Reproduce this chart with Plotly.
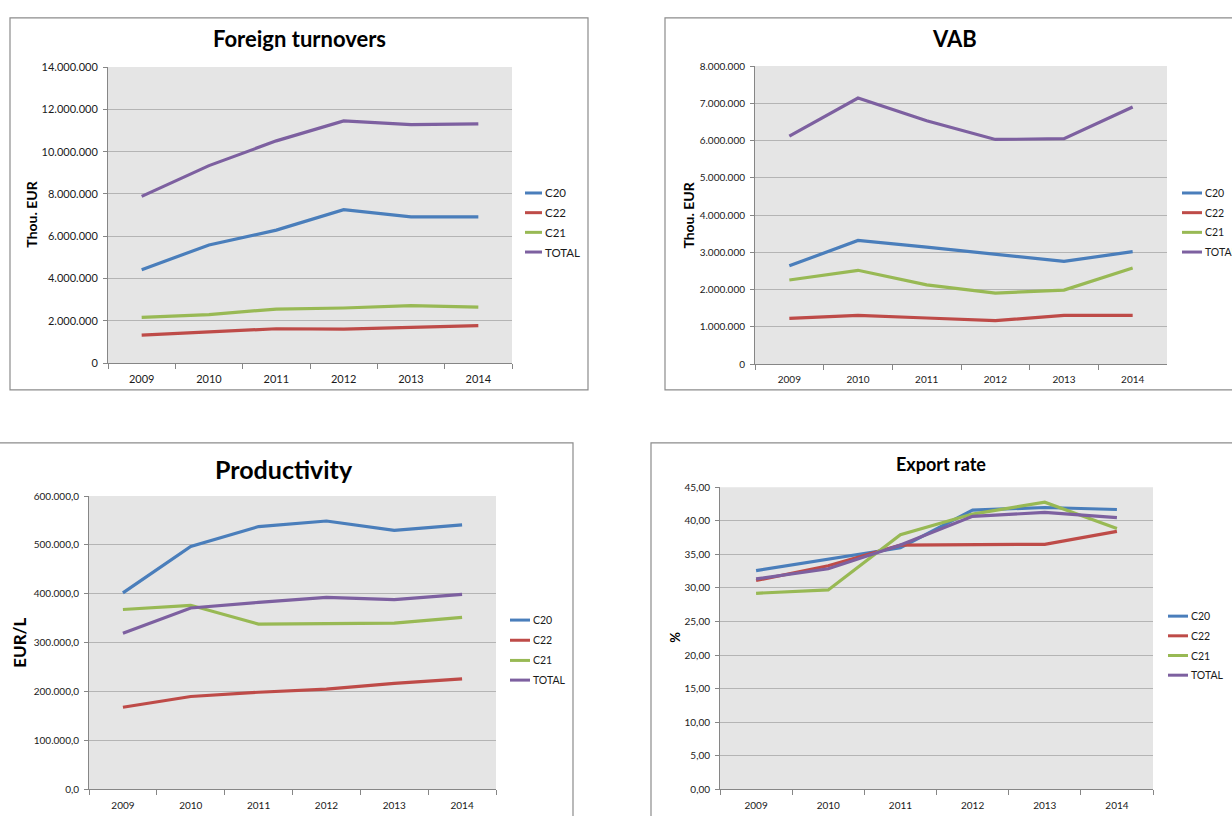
import plotly.graph_objects as go

W, H = 1232, 816

years = ["2009", "2010", "2011", "2012", "2013", "2014"]
series_names = ["C20", "C22", "C21", "TOTAL"]
series_colors = ["#4A7EBB", "#BE4B48", "#98B954", "#7D60A0"]

# Foreign turnovers (Thou. EUR)
turnover_c20 = [4420000, 5590000, 6290000, 7260000, 6920000, 6920000]
turnover_c22 = [1330000, 1470000, 1630000, 1610000, 1680000, 1780000]
turnover_c21 = [2170000, 2300000, 2560000, 2610000, 2720000, 2650000]
turnover_total = [7885000, 9340000, 10510000, 11450000, 11280000, 11310000]

# VAB (Thou. EUR)
vab_c20 = [2640000, 3320000, 3140000, 2950000, 2760000, 3020000]
vab_c22 = [1230000, 1310000, 1240000, 1170000, 1310000, 1310000]
vab_c21 = [2260000, 2520000, 2130000, 1910000, 1990000, 2580000]
vab_total = [6120000, 7140000, 6530000, 6030000, 6050000, 6900000]

# Productivity (EUR/L)
prod_c20 = [402000, 497000, 537600, 549000, 530000, 541000]
prod_c22 = [168000, 190000, 198700, 205000, 216800, 226000]
prod_c21 = [368000, 376500, 338000, 339600, 340000, 352000]
prod_total = [319500, 371000, 382500, 392600, 388000, 399000]

# Export rate (%)
exp_c20 = [32.57, 34.30, 35.98, 41.59, 41.98, 41.68]
exp_c22 = [31.10, 33.30, 36.37, 36.47, 36.50, 38.42]
exp_c21 = [29.20, 29.70, 37.93, 41.00, 42.76, 38.86]
exp_total = [31.35, 32.86, 36.40, 40.66, 41.25, 40.47]

FONT = "Lato"
AXIS_GRAY = "#868686"
GRID_GRAY = "#B4B4B4"
PLOT_BG = "#E5E5E5"
TEXT = "#1A1A1A"


def px(x):
    return x / W


def py(y):
    return 1 - y / H


panels = [
    dict(title="Foreign turnovers", title_size=22, title_xy=(299, 32),
         ytitle="Thou. EUR", ytitle_size=14, ytitle_xy=(32, 211),
         box=(10, 11, 588, 389), plot=(108, 61, 512, 362),
         ymax=14000000, dtick=2000000, fmt=",.0f", tick_size=11,
         leg_size=11.5, xstand=6,
         data=[turnover_c20, turnover_c22, turnover_c21, turnover_total],
         leg_x=(525, 542), leg_y=[189, 209, 229, 249]),
    dict(title="VAB", title_size=22, title_xy=(954, 32),
         ytitle="Thou. EUR", ytitle_size=14, ytitle_xy=(689, 212),
         box=(665, 11, 1240, 389), plot=(755, 60, 1167, 363),
         ymax=8000000, dtick=1000000, fmt=",.0f", tick_size=10,
         leg_size=10.5, xstand=6,
         data=[vab_c20, vab_c22, vab_c21, vab_total],
         leg_x=(1182, 1202), leg_y=[189, 209, 229, 249]),
    dict(title="Productivity", title_size=25, title_xy=(284, 469),
         ytitle="EUR/L", ytitle_size=17, ytitle_xy=(20, 646),
         box=(-2, 443, 573, 830), plot=(89, 497, 496, 795),
         ymax=600000, dtick=100000, fmt=",.1f", tick_size=10,
         leg_size=10.5, xstand=7,
         data=[prod_c20, prod_c22, prod_c21, prod_total],
         leg_x=(510, 530), leg_y=[623, 643.5, 664, 684]),
    dict(title="Export rate", title_size=18, title_xy=(941, 464),
         ytitle="%", ytitle_size=13, ytitle_xy=(675, 641),
         box=(651, 443, 1240, 830), plot=(720, 488, 1153, 795),
         ymax=45, dtick=5, fmt=".2f", tick_size=10,
         leg_size=10.5, xstand=7,
         data=[exp_c20, exp_c22, exp_c21, exp_total],
         leg_x=(1168, 1188), leg_y=[619, 639, 659, 679]),
]

fig = go.Figure()
shapes = []
annotations = []
layout_axes = {}

for i, p in enumerate(panels, start=1):
    xa = "x" if i == 1 else f"x{i}"
    ya = "y" if i == 1 else f"y{i}"
    x0, y0, x1, y1 = p["plot"]

    # chart frame
    bx0, by0, bx1, by1 = p["box"]
    shapes.append(dict(type="rect", xref="paper", yref="paper",
                       x0=px(bx0), x1=px(bx1), y0=py(by1), y1=py(by0),
                       line=dict(color="#8C8C8C", width=1.2),
                       fillcolor="white", layer="below"))
    # plot area fill
    shapes.append(dict(type="rect", xref="paper", yref="paper",
                       x0=px(x0), x1=px(x1), y0=py(y1), y1=py(y0),
                       line=dict(width=0), fillcolor=PLOT_BG, layer="below"))

    for name, color, vals in zip(series_names, series_colors, p["data"]):
        fig.add_trace(go.Scatter(x=years, y=vals, mode="lines", name=name,
                                 line=dict(color=color, width=3.2),
                                 xaxis=xa, yaxis=ya, showlegend=False,
                                 hoverinfo="skip"))

    key = "" if i == 1 else str(i)
    layout_axes[f"xaxis{key}"] = dict(
        domain=[px(x0), px(x1)], anchor=ya, type="category",
        range=[-0.5, 5.5], tickson="boundaries", ticks="outside",
        ticklen=5, tickcolor=AXIS_GRAY, showline=True, linecolor=AXIS_GRAY,
        linewidth=1, showgrid=False, zeroline=False,
        ticklabelstandoff=p["xstand"],
        tickfont=dict(family=FONT, size=p["tick_size"], color=TEXT),
        fixedrange=True)
    layout_axes[f"yaxis{key}"] = dict(
        domain=[py(y1), py(y0)], anchor=xa, range=[0, p["ymax"]],
        dtick=p["dtick"], tick0=0, tickformat=p["fmt"], ticks="outside",
        ticklen=4, tickcolor=AXIS_GRAY, showline=True, linecolor=AXIS_GRAY,
        linewidth=1, showgrid=True, gridcolor=GRID_GRAY, gridwidth=1,
        zeroline=False, ticklabelstandoff=3,
        tickfont=dict(family=FONT, size=p["tick_size"], color=TEXT),
        fixedrange=True)

    # chart title
    tx, ty = p["title_xy"]
    annotations.append(dict(xref="paper", yref="paper", x=px(tx), y=py(ty),
                            text=f"<b>{p['title']}</b>", showarrow=False,
                            xanchor="center", yanchor="middle",
                            font=dict(family=FONT, size=p["title_size"],
                                      color="black")))
    # y axis title
    ax_, ay_ = p["ytitle_xy"]
    annotations.append(dict(xref="paper", yref="paper", x=px(ax_), y=py(ay_),
                            text=f"<b>{p['ytitle']}</b>", showarrow=False,
                            textangle=-90, xanchor="center", yanchor="middle",
                            font=dict(family=FONT, size=p["ytitle_size"],
                                      color="black")))
    # legend keys
    lx0, lx1 = p["leg_x"]
    for name, color, ly in zip(series_names, series_colors, p["leg_y"]):
        shapes.append(dict(type="line", xref="paper", yref="paper",
                           x0=px(lx0), x1=px(lx1), y0=py(ly), y1=py(ly),
                           line=dict(color=color, width=3)))
        annotations.append(dict(xref="paper", yref="paper", x=px(lx1 + 0.5),
                                y=py(ly), text=name, showarrow=False,
                                xanchor="left", yanchor="middle",
                                font=dict(family=FONT, size=p["leg_size"],
                                          color=TEXT)))

fig.update_layout(
    width=W, height=H, margin=dict(l=0, r=0, t=0, b=0),
    paper_bgcolor="white", plot_bgcolor="rgba(0,0,0,0)",
    separators=",.", showlegend=False,
    shapes=shapes, annotations=annotations, **layout_axes)

fig.write_html("out.html", config={"displayModeBar": False})
